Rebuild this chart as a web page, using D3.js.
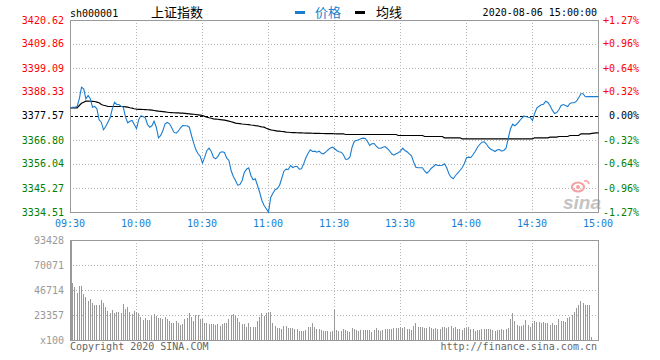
<!DOCTYPE html>
<html><head><meta charset="utf-8">
<script src="https://cdn.jsdelivr.net/npm/d3@7/dist/d3.min.js"></script>
<style>
html,body{margin:0;padding:0;background:#fff;}
svg{display:block;}
text{font-family:"DejaVu Sans Mono","Liberation Mono",monospace;font-size:10px;}
</style></head><body>
<svg id="chart" width="660" height="360"></svg>
<script>
const symbol = "sh000001";
const title = "上证指数";
const dateText = "2020-08-06 15:00:00";
const legendLabels = ["价格", "均线"];
const timeLabels = ["09:30","10:00","10:30","11:00","11:30","13:30","14:00","14:30","15:00"];
const timeTickIndex = [0,30,60,90,120,150,180,210,240];
const prevClose = 3377.57;
const priceTicks = [3420.62,3409.86,3399.09,3388.33,3377.57,3366.80,3356.04,3345.27,3334.51];
const pctLabels = ["+1.27%","+0.96%","+0.64%","+0.32%","0.00%","-0.32%","-0.64%","-0.96%","-1.27%"];
const volumeTicks = [93428,70071,46714,23357,0];
const volumeLabels = ["93428","70071","46714","23357","x100"];

const price = [
3381.47,3381.74,3381.74,3382.06,3385.51,3390.71,3389.99,3385.51,3386.99,3385.51,
3381.74,3382.06,3381.02,3376.09,3375.01,3371.60,3373.08,3375.01,3376.99,3381.02,
3383.98,3382.95,3382.95,3382.19,3381.74,3377.26,3374.74,3375.46,3375.78,3373.98,
3372.05,3376.09,3377.88,3377.57,3376.99,3373.98,3372.77,3373.40,3375.46,3372.77,
3368.02,3369.05,3371.29,3374.30,3374.88,3374.30,3372.50,3370.53,3370.08,3370.98,
3372.50,3373.53,3373.40,3373.40,3372.77,3369.05,3365.60,3362.63,3360.84,3359.63,
3356.63,3359.32,3362.32,3363.35,3361.87,3359.18,3358.60,3359.63,3361.42,3361.74,
3361.42,3358.87,3357.84,3353.35,3350.66,3348.87,3346.76,3347.07,3348.87,3352.45,
3353.93,3354.56,3351.11,3349.18,3349.63,3346.62,3343.48,3339.90,3337.65,3336.17,
3334.65,3341.24,3343.17,3344.70,3345.28,3346.62,3349.76,3353.04,3353.93,3353.80,
3355.59,3354.70,3355.14,3355.14,3353.93,3354.11,3356.36,3359.05,3361.11,3362.63,
3361.87,3362.01,3361.56,3362.01,3361.11,3360.84,3361.56,3362.55,3363.35,3363.80,
3363.22,
3362.32,3361.74,3361.56,3360.53,3358.42,3358.42,3359.32,3363.80,3366.49,
3366.81,3367.12,3367.57,3367.84,3367.70,3366.36,3364.56,3365.33,3365.46,3364.25,
3363.35,3363.35,3363.80,3364.11,3363.22,3362.19,3360.84,3360.21,3360.84,3361.29,
3362.01,3363.35,3362.32,3361.74,3360.84,3359.94,3357.07,3354.83,3354.56,3354.56,
3354.56,3353.04,3352.14,3353.04,3354.38,3355.14,3356.04,3355.59,3355.59,3355.73,
3356.36,3354.56,3351.87,3350.35,3349.63,3351.11,3352.14,3353.35,3354.56,3356.36,
3359.05,3359.32,3359.18,3360.53,3362.01,3363.80,3365.01,3366.04,3366.22,3365.33,
3363.80,3362.90,3362.46,3361.87,3362.63,3362.77,3362.01,3362.46,3363.35,3368.02,
3372.05,3374.12,3373.40,3374.30,3375.46,3376.67,3377.70,3377.57,3377.26,3377.12,
3375.78,3379.05,3381.47,3382.19,3382.82,3383.09,3384.43,3383.85,3382.37,3380.40,
3378.92,3379.36,3380.57,3382.50,3382.95,3382.50,3382.06,3383.40,3383.71,3383.71,
3384.43,3385.96,3387.75,3387.75,3386.41,3386.46,3386.46,3386.46,3386.46,3386.46,
3386.46
];

const avgPrice = [
3381.47,3381.47,3381.47,3381.47,3382.50,3383.50,3383.98,3384.43,3384.43,3384.40,
3384.35,3384.30,3384.00,3383.71,3382.95,3382.60,3382.37,3382.06,3382.06,3382.06,
3382.06,3382.06,3382.06,3382.06,3382.06,3381.90,3381.74,3381.50,3381.29,3381.05,
3380.84,3380.80,3380.75,3380.70,3380.65,3380.60,3380.57,3380.40,3380.25,3380.10,
3379.95,3379.83,3379.71,3379.60,3379.48,3379.36,3379.30,3379.25,3379.20,3379.15,
3379.10,3379.05,3378.95,3378.86,3378.76,3378.67,3378.57,3378.47,3378.30,3378.15,
3378.02,3377.60,3377.26,3377.00,3376.78,3376.54,3376.43,3376.32,3376.20,3376.09,
3375.90,3375.70,3375.46,3375.20,3374.90,3374.60,3374.45,3374.35,3374.20,3374.10,
3373.98,3373.90,3373.75,3373.65,3373.50,3373.40,3373.10,3372.85,3372.77,3372.30,
3371.90,3371.60,3371.40,3371.20,3371.00,3370.98,3370.85,3370.75,3370.60,3370.50,
3370.39,3370.35,3370.32,3370.28,3370.25,3370.20,3370.17,3370.14,3370.11,3370.08,
3370.05,3370.03,3370.00,3369.98,3369.95,3369.93,3369.90,3369.88,3369.86,3369.84,
3369.82,
3369.81,3369.81,3369.81,3369.81,
3369.50,3369.50,3369.50,3369.50,3369.50,3369.50,3369.50,3369.50,3369.50,3369.50,
3369.50,3369.50,3369.50,3369.50,3369.50,3369.50,3369.50,3369.50,3369.50,3369.50,
3369.50,3369.50,3369.50,3369.50,
3369.05,3369.05,3369.05,3369.05,3369.05,3369.05,3369.05,3369.05,3369.05,3369.05,3369.05,3369.05,
3368.60,3368.60,3368.60,3368.60,3368.60,3368.60,3368.60,3368.60,3368.60,
3368.02,3368.02,3368.02,3368.02,3368.02,3368.02,3368.02,3368.02,
3367.57,3367.57,3367.57,3367.57,3367.57,3367.57,3367.57,3367.57,3367.57,3367.57,
3367.57,3367.57,3367.57,3367.57,3367.57,3367.57,3367.57,3367.57,3367.57,3367.57,
3367.57,3367.57,3367.57,3367.57,3367.57,3367.57,3367.57,3367.57,3367.57,3367.57,
3367.57,3367.57,3367.57,
3368.02,3368.02,3368.02,3368.02,3368.02,3368.02,3368.02,
3368.29,3368.29,3368.29,3368.29,
3368.60,3368.60,3368.60,3368.60,3368.60,
3369.05,3369.05,3369.05,3369.05,3369.05,
3369.81,3369.81,3369.81,3369.81,3369.81,
3370.00,3370.10,3370.20,3370.26
];

const volume = [
93428,53534,49797,44191,50451,50451,42977,39894,36717,38025,
34849,32700,32700,32700,37371,34288,30551,27374,25506,28028,
24945,26440,26440,24945,33634,28682,31111,26440,24291,27374,
26440,24945,21208,18686,20274,18686,18686,22423,24291,22423,
20274,20274,19620,21208,19620,18032,15602,15602,17471,16163,
14014,14948,19620,20274,24945,21769,18032,23637,23077,19620,
19340,16163,15602,14948,14948,14948,14014,14948,13080,14948,
15602,16163,19340,23357,24291,22423,20274,17097,14948,14948,
12426,16163,12426,12426,12426,18032,21769,24945,22423,24945,
26440,26440,16163,13080,10931,10931,9997,13080,13080,10931,
10931,10931,9997,9997,8689,8689,8689,9343,11865,12426,
16163,12426,9997,9997,9343,8689,8689,8689,7755,8689,
28028,
9343,8689,8689,9997,9343,8689,7755,10931,9997,
9343,8689,9343,9343,9343,9343,9343,7755,9343,10931,
9343,8689,9343,9997,9997,9997,9997,10931,10931,10931,
11865,10931,11865,9997,9997,9343,13080,15602,11865,11865,
11865,10931,10931,11865,10931,9997,10931,9997,9997,11865,
11865,10931,11865,13080,10931,11865,9997,9997,9343,10931,
10931,11865,9997,9997,8689,9343,9343,9997,9997,9997,
9997,9997,9343,8689,9343,9343,9997,9343,9997,10931,
19340,24945,18032,14014,13080,13080,14014,18686,14014,12426,
16163,18032,17097,17097,16163,17097,15602,16163,14014,15602,
14014,14014,19340,18032,18032,17097,20274,21208,23357,26440,
29617,32700,36717,34849,32700,32700,32700,3083,0,0,
0
];

const W = 660, H = 360;
const left = 70, right = 598;
const pTop = 20, pBot = 212;
const vTop = 240, vBot = 340;
const blue = "#1a7dd0";
const gridColor = "#b4b4b4";
const borderColor = "#999";
const red = "#ff0000", green = "#008000";

const svg = d3.select("#chart");
const x = d3.scaleLinear().domain([0, 240]).range([left, right]);
const y = d3.scaleLinear().domain([priceTicks[priceTicks.length-1], priceTicks[0]]).range([pBot, pTop]);
const yv = d3.scaleLinear().domain([0, volumeTicks[0]]).range([vBot, vTop]);
const snap = v => Math.round(v) + 0.5;

// ---- price panel grid ----
const gP = svg.append("g");
priceTicks.forEach(t => {
  if (t === priceTicks[0] || t === priceTicks[priceTicks.length-1] || t === prevClose) return;
  gP.append("line").attr("x1", left).attr("x2", right).attr("y1", snap(y(t))).attr("y2", snap(y(t)))
    .attr("stroke", gridColor).attr("stroke-dasharray", "1,2");
});
timeTickIndex.slice(1, -1).forEach(i => {
  gP.append("line").attr("x1", snap(x(i))).attr("x2", snap(x(i))).attr("y1", pTop).attr("y2", pBot)
    .attr("stroke", gridColor).attr("stroke-dasharray", "1,2");
  svg.append("line").attr("x1", snap(x(i))).attr("x2", snap(x(i))).attr("y1", vTop).attr("y2", vBot)
    .attr("stroke", gridColor).attr("stroke-dasharray", "1,2");
});
// volume horizontal grid
volumeTicks.slice(1, -1).forEach(t => {
  svg.append("line").attr("x1", left).attr("x2", right).attr("y1", snap(yv(t))).attr("y2", snap(yv(t)))
    .attr("stroke", gridColor).attr("stroke-dasharray", "1,2");
});

// watermark (sina logo)
const wm = svg.append("g");
wm.append("ellipse").attr("cx", 578).attr("cy", 187).attr("rx", 6).attr("ry", 4.5)
  .attr("fill", "none").attr("stroke", "#f3a3a3").attr("stroke-width", 2.2);
wm.append("circle").attr("cx", 578).attr("cy", 187).attr("r", 2).attr("fill", "#f3a3a3");
wm.append("path").attr("d", "M584,181 q4,-1 5,3").attr("fill", "none").attr("stroke", "#f3a3a3").attr("stroke-width", 1.5);
wm.append("text").attr("x", 563).attr("y", 209).text("sina")
  .style("font-family", "'Liberation Sans',Arial,sans-serif").style("font-size", "19px")
  .style("font-style", "italic").style("font-weight", "bold").attr("fill", "#c4c4c4");

// prev close dashed line
svg.append("line").attr("x1", left).attr("x2", right).attr("y1", snap(y(prevClose))).attr("y2", snap(y(prevClose)))
  .attr("stroke", "#000").attr("stroke-dasharray", "3,2");

// borders
svg.append("rect").attr("x", left + 0.5).attr("y", pTop + 0.5).attr("width", right - left).attr("height", pBot - pTop)
  .attr("fill", "none").attr("stroke", borderColor);
svg.append("rect").attr("x", left + 0.5).attr("y", vTop + 0.5).attr("width", right - left).attr("height", vBot - vTop)
  .attr("fill", "none").attr("stroke", borderColor);

// volume bars
svg.append("g").selectAll("rect").data(volume).join("rect")
  .attr("x", (d, i) => Math.round(x(i)))
  .attr("width", (d, i) => i === 0 ? 2 : 1)
  .attr("y", d => Math.round(yv(d)))
  .attr("height", d => vBot - Math.round(yv(d)))
  .attr("fill", "#999");

// lines
const line = d3.line().x((d, i) => x(i) + 0.5).y(d => y(d) + 0.5);
svg.append("path").datum(avgPrice).attr("d", line).attr("fill", "none").attr("stroke", "#000")
  .attr("stroke-width", 1.2);
svg.append("path").datum(price).attr("d", line).attr("fill", "none").attr("stroke", blue)
  .attr("stroke-width", 1.1);

// left price labels
priceTicks.forEach(t => {
  const c = t > prevClose ? red : (t < prevClose ? green : "#000");
  svg.append("text").attr("x", 64).attr("y", y(t)).attr("dy", "0.35em").attr("text-anchor", "end")
    .attr("fill", c).text(t.toFixed(2));
});
// right pct labels
priceTicks.forEach((t, k) => {
  const c = t > prevClose ? red : (t < prevClose ? green : "#000");
  svg.append("text").attr("x", 639).attr("y", y(t)).attr("dy", "0.35em").attr("text-anchor", "end")
    .attr("fill", c).text(pctLabels[k]);
});
// time labels
timeTickIndex.forEach((i, k) => {
  svg.append("text").attr("x", x(i)).attr("y", 223).attr("dy", "0.35em").attr("text-anchor", "middle")
    .attr("fill", blue).text(timeLabels[k]);
});
// volume labels
volumeTicks.forEach((t, k) => {
  svg.append("text").attr("x", 64).attr("y", yv(t)).attr("dy", "0.35em").attr("text-anchor", "end")
    .attr("fill", "#999").text(volumeLabels[k]);
});

// header
svg.append("text").attr("x", 70).attr("y", 13).attr("dy", "0.35em").attr("fill", "#000").text(symbol);
svg.append("text").attr("x", 151).attr("y", 12).attr("dy", "0.35em").attr("fill", "#000")
  .style("font-family", "'Noto Sans CJK SC',sans-serif").style("font-size", "13px").text(title);
svg.append("rect").attr("x", 295).attr("y", 11).attr("width", 10).attr("height", 3).attr("fill", blue);
svg.append("text").attr("x", 315).attr("y", 12).attr("dy", "0.35em").attr("fill", blue)
  .style("font-family", "'Noto Sans CJK SC',sans-serif").style("font-size", "13px").text(legendLabels[0]);
svg.append("rect").attr("x", 355).attr("y", 11).attr("width", 10).attr("height", 3).attr("fill", "#000");
svg.append("text").attr("x", 376).attr("y", 12).attr("dy", "0.35em").attr("fill", "#000")
  .style("font-family", "'Noto Sans CJK SC',sans-serif").style("font-size", "13px").text(legendLabels[1]);
svg.append("text").attr("x", 597).attr("y", 12).attr("dy", "0.35em").attr("text-anchor", "end")
  .attr("fill", "#000").text(dateText);

// footer
svg.append("text").attr("x", 70).attr("y", 346).attr("dy", "0.35em").attr("fill", "#666").text("Copyright 2020 SINA.COM");
svg.append("text").attr("x", 597).attr("y", 346).attr("dy", "0.35em").attr("text-anchor", "end")
  .attr("fill", "#666").text("http://finance.sina.com.cn");
</script>
</body></html>
